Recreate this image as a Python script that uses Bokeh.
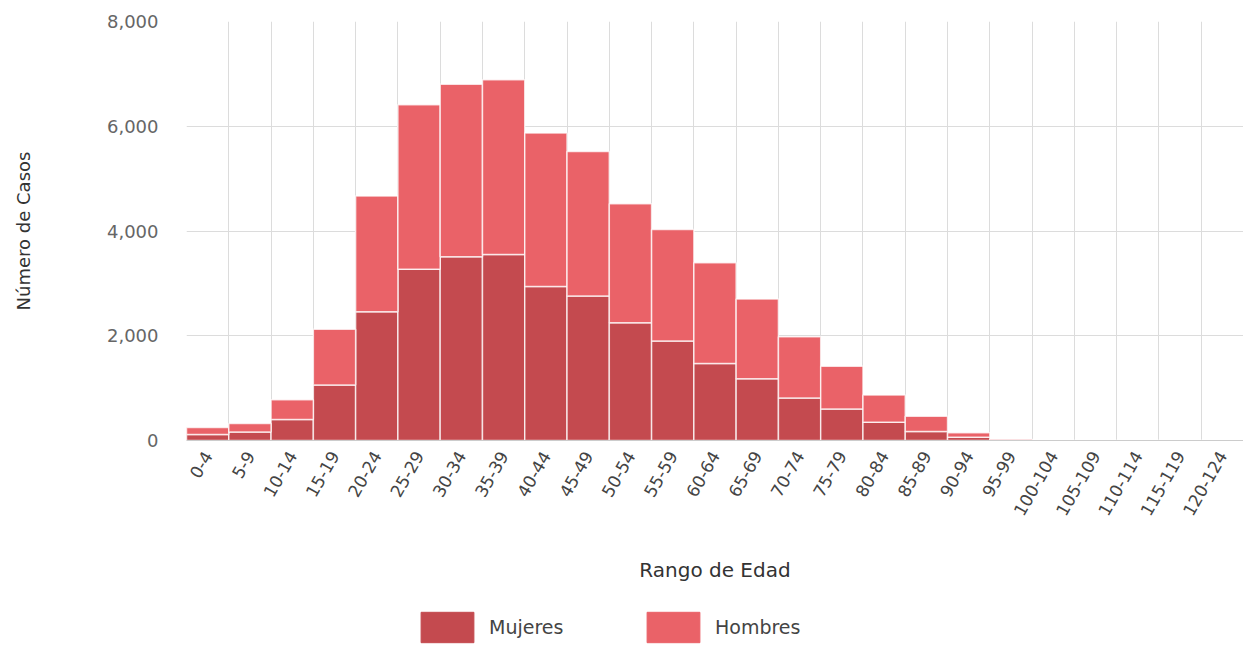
from bokeh.plotting import figure
from bokeh.layouts import column
from bokeh.models import (ColumnDataSource, Range1d, FixedTicker,
                          NumeralTickFormatter, Legend, LegendItem)
from bokeh.embed import file_html
from bokeh.resources import INLINE

# ---- data ----
age_groups = ["0-4", "5-9", "10-14", "15-19", "20-24", "25-29", "30-34",
              "35-39", "40-44", "45-49", "50-54", "55-59", "60-64", "65-69",
              "70-74", "75-79", "80-84", "85-89", "90-94", "95-99",
              "100-104", "105-109", "110-114", "115-119", "120-124"]
mujeres = [115, 160, 400, 1060, 2460, 3270, 3510, 3550, 2940, 2760, 2250,
           1900, 1470, 1180, 810, 600, 350, 170, 60, 10, 0, 0, 0, 0, 0]
hombres = [135, 165, 380, 1065, 2210, 3140, 3290, 3340, 2930, 2760, 2270,
           2130, 1925, 1520, 1170, 820, 520, 295, 86, 15, 0, 0, 0, 0, 0]
y_ticks = [0, 2000, 4000, 6000, 8000]
series = ["Mujeres", "Hombres"]
colors = ["#c44a4f", "#ea6268"]

FONT = "DejaVu Sans"
W = 1243
n = len(age_groups)
centers = [i + 0.5 for i in range(n)]

src = ColumnDataSource(dict(x=centers, label=age_groups,
                            Mujeres=mujeres, Hombres=hombres))

# ---- main chart ----
p = figure(width=W, height=606, output_backend="svg", toolbar_location=None,
           x_range=Range1d(0, n), y_range=Range1d(0, 8000),
           min_border_left=186, min_border_right=0, min_border_top=21,
           min_border_bottom=166, background_fill_color="white",
           border_fill_color="white", outline_line_color=None)

rs = p.vbar_stack(series, x="x", width=1, source=src,
                  fill_color=colors, line_color="white", line_alpha=0.75,
                  line_width=1.5)

p.xgrid.ticker = FixedTicker(ticks=list(range(0, n + 1)))
p.ygrid.ticker = FixedTicker(ticks=y_ticks)
p.xgrid.grid_line_color = "#dcdcdc"
p.ygrid.grid_line_color = "#dcdcdc"

xa = p.xaxis[0]
xa.ticker = FixedTicker(ticks=centers)
xa.major_label_overrides = {c: lab for c, lab in zip(centers, age_groups)}
xa.major_label_orientation = 1.05
xa.major_label_standoff = 6
xa.major_label_text_font = FONT
xa.major_label_text_font_size = "17px"
xa.major_label_text_color = "#444444"
xa.axis_line_color = "#cccccc"
xa.major_tick_line_color = None
xa.minor_tick_line_color = None
xa.axis_label = "Rango de Edad"
xa.axis_label_text_font = FONT
xa.axis_label_text_font_size = "20px"
xa.axis_label_text_font_style = "normal"
xa.axis_label_text_color = "#333333"
xa.axis_label_standoff = 34

ya = p.yaxis[0]
ya.ticker = FixedTicker(ticks=y_ticks)
ya.formatter = NumeralTickFormatter(format="0,0")
ya.major_label_standoff = 22
ya.major_label_text_font = FONT
ya.major_label_text_font_size = "18px"
ya.major_label_text_color = "#666666"
ya.axis_line_color = None
ya.major_tick_line_color = None
ya.minor_tick_line_color = None
ya.axis_label = "Número de Casos"
ya.axis_label_text_font = FONT
ya.axis_label_text_font_size = "18px"
ya.axis_label_text_font_style = "normal"
ya.axis_label_text_color = "#333333"
ya.axis_label_standoff = 70

# ---- legend strip: same bar glyphs (hidden), only their swatches shown ----
lf = figure(width=W, height=40, output_backend="svg", toolbar_location=None,
            x_axis_type=None, y_axis_type=None, min_border=0,
            x_range=Range1d(0, n), y_range=Range1d(-2, -1),
            outline_line_color=None, background_fill_color="white",
            border_fill_color="white")
lf.grid.visible = False
swatches = [lf.vbar(x="x", top=s, width=1, source=src, fill_color=c,
                    line_color=c, visible=False)
            for s, c in zip(series, colors)]
legend = Legend(items=[LegendItem(label=s, renderers=[r])
                       for s, r in zip(series, swatches)],
                orientation="horizontal", location=(228, 0),
                glyph_width=66, glyph_height=38, label_standoff=9,
                spacing=59, label_width=92, padding=1, margin=0,
                border_line_color=None, background_fill_alpha=0,
                inactive_fill_alpha=0,
                label_text_font=FONT, label_text_font_size="19px",
                label_text_color="#444444")
lf.add_layout(legend, "center")

open("out.html", "w").write(file_html(column(p, lf), INLINE))
